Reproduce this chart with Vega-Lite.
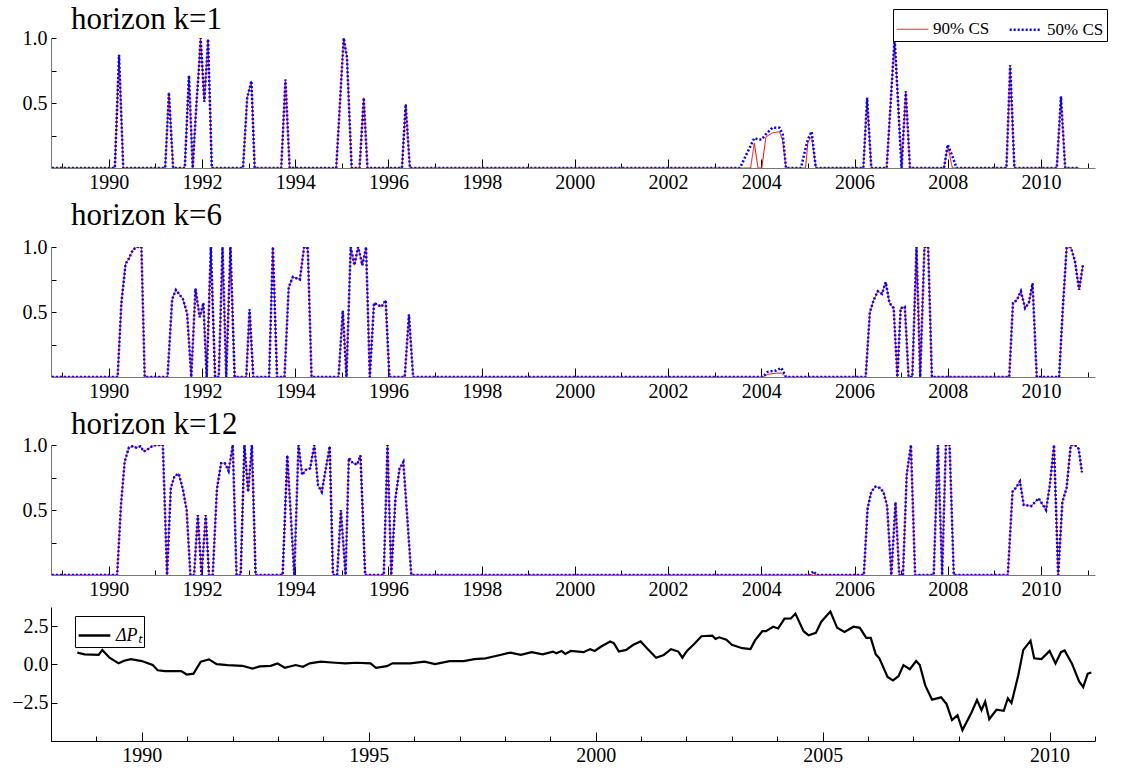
{
"$schema":"https://vega.github.io/schema/vega-lite/v6.json",
"background":"white",
"padding":{"top":4,"left":11,"right":8,"bottom":2},
"spacing":8,
"config":{"font":"Liberation Serif","view":{"stroke":null},
 "axis":{"grid":false,"labelFont":"Liberation Serif","labelFontSize":20,"labelColor":"black","tickColor":"black","title":null,"labelFlush":false},
 "title":{"font":"Liberation Serif","fontSize":31,"fontWeight":"normal","anchor":"start","frame":"group","color":"black","dx":20},
 "legend":{"labelFont":"Liberation Serif","labelColor":"black"}},
"datasets":{
"k1":[
{"x":1988.78,"r":0,"b":0},{"x":1990.13,"r":0,"b":0},{"x":1990.22,"r":0.87,"b":0.87},{"x":1990.31,"r":0,"b":0},
{"x":1991.21,"r":0,"b":0},{"x":1991.29,"r":0.58,"b":0.58},{"x":1991.38,"r":0,"b":0},
{"x":1991.63,"r":0,"b":0},{"x":1991.72,"r":0.71,"b":0.71},{"x":1991.8,"r":0,"b":0},{"x":1991.88,"r":0.49,"b":0.49},{"x":1991.93,"r":0.75,"b":0.75},{"x":1991.97,"r":1,"b":1},{"x":1992.05,"r":0.51,"b":0.51},{"x":1992.13,"r":0.99,"b":0.99},{"x":1992.21,"r":0,"b":0},
{"x":1992.88,"r":0,"b":0},{"x":1992.97,"r":0.54,"b":0.54},{"x":1993.06,"r":0.67,"b":0.67},{"x":1993.13,"r":0,"b":0},
{"x":1993.7,"r":0,"b":0},{"x":1993.79,"r":0.68,"b":0.68},{"x":1993.88,"r":0,"b":0},
{"x":1994.88,"r":0,"b":0},{"x":1995.04,"r":1,"b":1},{"x":1995.11,"r":0.85,"b":0.85},{"x":1995.21,"r":0,"b":0},
{"x":1995.38,"r":0,"b":0},{"x":1995.47,"r":0.54,"b":0.54},{"x":1995.55,"r":0,"b":0},
{"x":1996.29,"r":0,"b":0},{"x":1996.37,"r":0.49,"b":0.49},{"x":1996.46,"r":0,"b":0},
{"x":2003.54,"r":0,"b":0},{"x":2003.77,"r":0,"b":0.17},{"x":2003.85,"r":0.19,"b":0.23},{"x":2003.93,"r":0,"b":0.22},{"x":2004.01,"r":0,"b":0.22},{"x":2004.1,"r":0.24,"b":0.26},{"x":2004.24,"r":0.27,"b":0.31},{"x":2004.39,"r":0.28,"b":0.31},{"x":2004.46,"r":0.21,"b":0.26},{"x":2004.53,"r":0,"b":0},
{"x":2004.85,"r":0,"b":0},{"x":2004.95,"r":0,"b":0.15},{"x":2005.0,"r":0.2,"b":0.22},{"x":2005.08,"r":0.24,"b":0.28},{"x":2005.17,"r":0,"b":0},
{"x":2006.19,"r":0,"b":0},{"x":2006.27,"r":0.54,"b":0.54},{"x":2006.36,"r":0,"b":0},
{"x":2006.69,"r":0,"b":0},{"x":2006.86,"r":1,"b":1},{"x":2007.01,"r":0,"b":0},{"x":2007.1,"r":0.59,"b":0.59},{"x":2007.19,"r":0,"b":0},
{"x":2007.92,"r":0,"b":0},{"x":2008.0,"r":0.17,"b":0.18},{"x":2008.1,"r":0,"b":0.09},{"x":2008.19,"r":0,"b":0},
{"x":2009.26,"r":0,"b":0},{"x":2009.34,"r":0.79,"b":0.79},{"x":2009.43,"r":0,"b":0},
{"x":2010.34,"r":0,"b":0},{"x":2010.43,"r":0.55,"b":0.55},{"x":2010.52,"r":0,"b":0},{"x":2010.82,"r":0,"b":0}
],
"k6":[
{"x":1988.78,"r":0,"b":0},{"x":1990.19,"r":0,"b":0},{"x":1990.27,"r":0.57,"b":0.57},{"x":1990.36,"r":0.87,"b":0.87},{"x":1990.43,"r":0.91,"b":0.91},{"x":1990.52,"r":0.98,"b":0.98},{"x":1990.61,"r":1,"b":1},{"x":1990.7,"r":1,"b":1},{"x":1990.77,"r":0,"b":0},
{"x":1991.26,"r":0,"b":0},{"x":1991.36,"r":0.6,"b":0.6},{"x":1991.44,"r":0.67,"b":0.67},{"x":1991.59,"r":0.6,"b":0.6},{"x":1991.68,"r":0.49,"b":0.49},{"x":1991.77,"r":0,"b":0},{"x":1991.86,"r":0.68,"b":0.68},{"x":1991.95,"r":0.46,"b":0.46},{"x":1992.03,"r":0.57,"b":0.57},{"x":1992.1,"r":0,"b":0},{"x":1992.19,"r":1,"b":1},{"x":1992.28,"r":0,"b":0},{"x":1992.36,"r":0,"b":0},{"x":1992.44,"r":1,"b":1},{"x":1992.52,"r":0,"b":0},{"x":1992.61,"r":1,"b":1},{"x":1992.7,"r":0,"b":0},
{"x":1992.95,"r":0,"b":0},{"x":1993.02,"r":0.52,"b":0.52},{"x":1993.1,"r":0,"b":0},
{"x":1993.44,"r":0,"b":0},{"x":1993.52,"r":1,"b":1},{"x":1993.61,"r":0,"b":0},
{"x":1993.77,"r":0,"b":0},{"x":1993.86,"r":0.69,"b":0.69},{"x":1993.95,"r":0.77,"b":0.77},{"x":1994.1,"r":0.75,"b":0.75},{"x":1994.19,"r":1,"b":1},{"x":1994.27,"r":0.99,"b":0.99},{"x":1994.35,"r":0,"b":0},
{"x":1994.93,"r":0,"b":0},{"x":1995.02,"r":0.51,"b":0.51},{"x":1995.1,"r":0,"b":0},{"x":1995.19,"r":1,"b":1},{"x":1995.27,"r":0.86,"b":0.86},{"x":1995.35,"r":1,"b":1},{"x":1995.44,"r":0.86,"b":0.86},{"x":1995.52,"r":1,"b":1},{"x":1995.6,"r":0,"b":0},{"x":1995.69,"r":0.57,"b":0.57},{"x":1995.85,"r":0.54,"b":0.54},{"x":1995.94,"r":0.59,"b":0.59},{"x":1996.02,"r":0,"b":0},
{"x":1996.35,"r":0,"b":0},{"x":1996.44,"r":0.48,"b":0.48},{"x":1996.53,"r":0,"b":0},
{"x":2004.03,"r":0,"b":0},{"x":2004.14,"r":0.02,"b":0.04},{"x":2004.32,"r":0.03,"b":0.05},{"x":2004.43,"r":0.03,"b":0.07},{"x":2004.53,"r":0,"b":0},
{"x":2006.24,"r":0,"b":0},{"x":2006.33,"r":0.5,"b":0.5},{"x":2006.41,"r":0.59,"b":0.59},{"x":2006.5,"r":0.66,"b":0.66},{"x":2006.59,"r":0.64,"b":0.64},{"x":2006.67,"r":0.73,"b":0.73},{"x":2006.75,"r":0.57,"b":0.57},{"x":2006.84,"r":0.53,"b":0.53},{"x":2006.92,"r":0,"b":0},{"x":2006.99,"r":0.53,"b":0.53},{"x":2007.08,"r":0.54,"b":0.54},{"x":2007.16,"r":0,"b":0},{"x":2007.24,"r":0,"b":0},{"x":2007.33,"r":1,"b":1},{"x":2007.41,"r":0,"b":0},{"x":2007.5,"r":1,"b":1},{"x":2007.58,"r":1,"b":1},{"x":2007.66,"r":0,"b":0},
{"x":2009.32,"r":0,"b":0},{"x":2009.4,"r":0.57,"b":0.57},{"x":2009.48,"r":0.59,"b":0.59},{"x":2009.57,"r":0.66,"b":0.66},{"x":2009.66,"r":0.53,"b":0.53},{"x":2009.74,"r":0.57,"b":0.57},{"x":2009.82,"r":0.72,"b":0.72},{"x":2009.91,"r":0,"b":0},
{"x":2010.39,"r":0,"b":0},{"x":2010.47,"r":0.53,"b":0.53},{"x":2010.55,"r":0.99,"b":0.99},{"x":2010.64,"r":1,"b":1},{"x":2010.73,"r":0.89,"b":0.89},{"x":2010.82,"r":0.67,"b":0.67},{"x":2010.9,"r":0.86,"b":0.86}
],
"k12":[
{"x":1988.78,"r":0,"b":0},{"x":1990.18,"r":0,"b":0},{"x":1990.26,"r":0.53,"b":0.53},{"x":1990.34,"r":0.87,"b":0.87},{"x":1990.43,"r":0.98,"b":0.98},{"x":1990.51,"r":0.99,"b":0.99},{"x":1990.59,"r":0.98,"b":0.98},{"x":1990.68,"r":0.99,"b":0.99},{"x":1990.75,"r":0.95,"b":0.95},{"x":1990.85,"r":0.97,"b":0.97},{"x":1990.93,"r":0.99,"b":0.99},{"x":1991.02,"r":1,"b":1},{"x":1991.16,"r":1,"b":1},{"x":1991.25,"r":0,"b":0},{"x":1991.33,"r":0.67,"b":0.67},{"x":1991.41,"r":0.76,"b":0.76},{"x":1991.5,"r":0.78,"b":0.78},{"x":1991.59,"r":0.66,"b":0.66},{"x":1991.67,"r":0.5,"b":0.5},{"x":1991.75,"r":0,"b":0},{"x":1991.83,"r":0,"b":0},{"x":1991.91,"r":0.46,"b":0.46},{"x":1991.99,"r":0,"b":0},{"x":1992.08,"r":0.46,"b":0.46},{"x":1992.15,"r":0,"b":0},{"x":1992.23,"r":0,"b":0},{"x":1992.32,"r":0.66,"b":0.66},{"x":1992.41,"r":0.86,"b":0.86},{"x":1992.49,"r":0.86,"b":0.86},{"x":1992.57,"r":0.8,"b":0.8},{"x":1992.66,"r":1,"b":1},{"x":1992.74,"r":0,"b":0},{"x":1992.83,"r":0,"b":0},{"x":1992.91,"r":1,"b":1},{"x":1992.99,"r":0.64,"b":0.64},{"x":1993.07,"r":1,"b":1},{"x":1993.15,"r":0,"b":0},
{"x":1993.73,"r":0,"b":0},{"x":1993.83,"r":0.92,"b":0.92},{"x":1993.98,"r":0,"b":0},{"x":1994.07,"r":1,"b":1},{"x":1994.15,"r":0.77,"b":0.77},{"x":1994.23,"r":0.81,"b":0.81},{"x":1994.32,"r":0.82,"b":0.82},{"x":1994.41,"r":1,"b":1},{"x":1994.49,"r":0.69,"b":0.69},{"x":1994.57,"r":0.64,"b":0.64},{"x":1994.74,"r":0.99,"b":0.99},{"x":1994.81,"r":0,"b":0},{"x":1994.9,"r":0,"b":0},{"x":1994.98,"r":0.5,"b":0.5},{"x":1995.08,"r":0,"b":0},{"x":1995.15,"r":0.9,"b":0.9},{"x":1995.24,"r":0.86,"b":0.86},{"x":1995.33,"r":0.85,"b":0.85},{"x":1995.4,"r":0.92,"b":0.92},{"x":1995.5,"r":0,"b":0},
{"x":1995.9,"r":0,"b":0},{"x":1995.98,"r":1,"b":1},{"x":1996.06,"r":0,"b":0},{"x":1996.15,"r":0.59,"b":0.59},{"x":1996.24,"r":0.82,"b":0.82},{"x":1996.32,"r":0.87,"b":0.87},{"x":1996.49,"r":0,"b":0},
{"x":2005.04,"r":0,"b":0},{"x":2005.12,"r":0.01,"b":0.03},{"x":2005.19,"r":0,"b":0},
{"x":2006.2,"r":0,"b":0},{"x":2006.28,"r":0.51,"b":0.51},{"x":2006.36,"r":0.64,"b":0.64},{"x":2006.45,"r":0.68,"b":0.68},{"x":2006.54,"r":0.67,"b":0.67},{"x":2006.62,"r":0.64,"b":0.64},{"x":2006.7,"r":0.53,"b":0.53},{"x":2006.79,"r":0,"b":0},{"x":2006.88,"r":0.56,"b":0.56},{"x":2006.96,"r":0,"b":0},{"x":2007.04,"r":0,"b":0},{"x":2007.12,"r":0.77,"b":0.77},{"x":2007.21,"r":1,"b":1},{"x":2007.3,"r":0,"b":0},
{"x":2007.7,"r":0,"b":0},{"x":2007.79,"r":1,"b":1},{"x":2007.88,"r":0,"b":0},{"x":2007.96,"r":1,"b":1},{"x":2008.04,"r":1,"b":1},{"x":2008.13,"r":0,"b":0},
{"x":2009.29,"r":0,"b":0},{"x":2009.39,"r":0.64,"b":0.64},{"x":2009.46,"r":0.67,"b":0.67},{"x":2009.55,"r":0.72,"b":0.72},{"x":2009.63,"r":0.54,"b":0.54},{"x":2009.79,"r":0.53,"b":0.53},{"x":2009.95,"r":0.59,"b":0.59},{"x":2010.11,"r":0.5,"b":0.5},{"x":2010.19,"r":0.69,"b":0.69},{"x":2010.28,"r":1,"b":1},{"x":2010.37,"r":0,"b":0},{"x":2010.46,"r":0.56,"b":0.56},{"x":2010.55,"r":0.67,"b":0.67},{"x":2010.64,"r":1,"b":1},{"x":2010.73,"r":1,"b":1},{"x":2010.81,"r":0.97,"b":0.97},{"x":2010.88,"r":0.79,"b":0.79}
],
"dp":[
{"x":1988.58,"v":0.77},{"x":1988.74,"v":0.66},{"x":1989.05,"v":0.62},{"x":1989.13,"v":0.95},{"x":1989.29,"v":0.44},{"x":1989.49,"v":0.07},{"x":1989.61,"v":0.24},{"x":1989.76,"v":0.35},{"x":1990.0,"v":0.22},{"x":1990.24,"v":-0.04},{"x":1990.35,"v":-0.38},{"x":1990.51,"v":-0.44},{"x":1990.87,"v":-0.44},{"x":1990.99,"v":-0.66},{"x":1991.14,"v":-0.6},{"x":1991.3,"v":0.18},{"x":1991.48,"v":0.33},{"x":1991.65,"v":0.02},{"x":1991.89,"v":-0.04},{"x":1992.21,"v":-0.09},{"x":1992.44,"v":-0.27},{"x":1992.6,"v":-0.13},{"x":1992.84,"v":-0.09},{"x":1992.99,"v":0.07},{"x":1993.15,"v":-0.22},{"x":1993.39,"v":-0.04},{"x":1993.55,"v":-0.15},{"x":1993.7,"v":0.07},{"x":1993.94,"v":0.18},{"x":1994.26,"v":0.11},{"x":1994.49,"v":0.07},{"x":1994.73,"v":0.11},{"x":1995.04,"v":0.07},{"x":1995.16,"v":-0.22},{"x":1995.4,"v":-0.11},{"x":1995.52,"v":0.07},{"x":1995.91,"v":0.07},{"x":1996.23,"v":0.18},{"x":1996.46,"v":0.02},{"x":1996.78,"v":0.22},{"x":1997.09,"v":0.22},{"x":1997.33,"v":0.35},{"x":1997.57,"v":0.4},{"x":1997.8,"v":0.55},{"x":1998.12,"v":0.77},{"x":1998.35,"v":0.62},{"x":1998.59,"v":0.8},{"x":1998.83,"v":0.66},{"x":1999.06,"v":0.84},
{"x":1999.13,"v":0.73},{"x":1999.25,"v":0.88},{"x":1999.33,"v":0.69},{"x":1999.45,"v":0.88},{"x":1999.73,"v":0.8},{"x":1999.88,"v":1.0},{"x":1999.98,"v":0.88},{"x":2000.12,"v":1.17},{"x":2000.32,"v":1.5},{"x":2000.4,"v":1.39},{"x":2000.51,"v":0.84},{"x":2000.67,"v":0.95},{"x":2000.83,"v":1.28},{"x":2000.99,"v":1.5},{"x":2001.14,"v":1.02},{"x":2001.33,"v":0.44},{"x":2001.5,"v":0.62},{"x":2001.66,"v":1.0},{"x":2001.82,"v":0.84},{"x":2001.91,"v":0.44},{"x":2002.01,"v":0.88},{"x":2002.17,"v":1.33},{"x":2002.33,"v":1.84},{"x":2002.57,"v":1.88},{"x":2002.64,"v":1.66},{"x":2002.72,"v":1.77},{"x":2002.88,"v":1.62},{"x":2003.0,"v":1.28},{"x":2003.23,"v":1.06},{"x":2003.41,"v":1.0},{"x":2003.51,"v":1.57},{"x":2003.67,"v":2.17},{"x":2003.75,"v":2.17},{"x":2003.91,"v":2.46},{"x":2004.02,"v":2.35},{"x":2004.16,"v":2.99},{"x":2004.3,"v":3.0},{"x":2004.4,"v":3.32},{"x":2004.58,"v":2.17},{"x":2004.69,"v":1.9},{"x":2004.85,"v":2.06},{"x":2004.97,"v":2.79},{"x":2005.17,"v":3.45},{"x":2005.32,"v":2.39},{"x":2005.48,"v":2.12},{"x":2005.68,"v":2.46},{"x":2005.82,"v":2.39},{"x":2005.96,"v":1.73},{"x":2006.06,"v":1.73},{"x":2006.17,"v":0.66},{"x":2006.25,"v":0.4},{"x":2006.43,"v":-0.82},{"x":2006.55,"v":-1.04},{"x":2006.67,"v":-0.77},{"x":2006.78,"v":-0.04},{"x":2006.92,"v":-0.31},{"x":2007.06,"v":0.22},{"x":2007.14,"v":-0.04},{"x":2007.26,"v":-1.37},{"x":2007.41,"v":-2.3},{"x":2007.61,"v":-2.15},{"x":2007.73,"v":-2.59},{"x":2007.85,"v":-3.63},{"x":2007.97,"v":-3.32},{"x":2008.08,"v":-4.29},{"x":2008.28,"v":-3.14},{"x":2008.4,"v":-2.32},{"x":2008.5,"v":-2.99},{"x":2008.58,"v":-2.43},{"x":2008.67,"v":-3.58},{"x":2008.83,"v":-2.96},{"x":2008.99,"v":-3.03},{"x":2009.08,"v":-2.21},{"x":2009.16,"v":-2.52},{"x":2009.31,"v":-0.71},{"x":2009.42,"v":0.95},{"x":2009.58,"v":1.55},{"x":2009.66,"v":0.4},{"x":2009.82,"v":0.35},{"x":2010.0,"v":0.88},{"x":2010.13,"v":0.07},{"x":2010.25,"v":0.8},{"x":2010.33,"v":0.91},{"x":2010.49,"v":0.07},{"x":2010.65,"v":-1.11},{"x":2010.74,"v":-1.48},{"x":2010.84,"v":-0.6},{"x":2010.92,"v":-0.53}
]},
"vconcat":[
{"width":1044,"height":130,"title":{"text":"horizon k=1","offset":-8},
 "data":{"name":"k1"},"transform":[{"fold":["r","b"],"as":["s","v"]}],
 "mark":{"type":"line","clip":true},
 "encoding":{
  "x":{"field":"x","type":"quantitative","scale":{"domain":[1988.76,2011.16],"nice":false,"zero":false},
   "axis":{"values":[1989,1990,1991,1992,1993,1994,1995,1996,1997,1998,1999,2000,2001,2002,2003,2004,2005,2006,2007,2008,2009,2010,2011],"labelExpr":"datum.value%2==0 ? datum.value : ''","tickSize":{"condition":{"test":"datum.value%2==0","value":-9},"value":-5},"labelPadding":13,"domainColor":"#777777","labelFont":"Liberation Serif","labelFontSize":20}},
  "y":{"field":"v","type":"quantitative","scale":{"domain":[0,1],"nice":false},
   "axis":{"values":[0.25,0.5,0.75,1],"format":".1f","labelExpr":"datum.value==0.5||datum.value==1 ? datum.label : ''","domainColor":"#777777","tickSize":-5,"labelPadding":9,"labelFont":"Liberation Serif","labelFontSize":20}},
  "stroke":{"field":"s","type":"nominal","scale":{"domain":["r","b"],"range":["#ff0000","#0000ff"]},
   "legend":{"title":null,"orient":"none","legendX":842,"legendY":-29,"direction":"horizontal","strokeColor":"black","padding":3,"labelFontSize":17,"symbolType":"stroke","symbolSize":1000,"labelExpr":"datum.label=='r' ? '90% CS' : '50% CS'","columnPadding":14,"fillColor":"white",
    "encode":{"symbols":{"update":{"strokeDash":{"signal":"datum.value=='b' ? [2,2] : [1,0]"},"strokeWidth":{"signal":"datum.value=='b' ? 2.5 : 1.2"}}}}}},
  "strokeDash":{"field":"s","type":"nominal","scale":{"domain":["r","b"],"range":[[1,0],[2,2]]},"legend":null},
  "strokeWidth":{"field":"s","type":"nominal","scale":{"domain":["r","b"],"range":[1,2.5]},"legend":null}
 }},
{"width":1044,"height":130,"title":{"text":"horizon k=6","offset":5},
 "data":{"name":"k6"},"transform":[{"fold":["r","b"],"as":["s","v"]}],
 "mark":{"type":"line","clip":true},
 "encoding":{
  "x":{"field":"x","type":"quantitative","scale":{"domain":[1988.76,2011.16],"nice":false,"zero":false},
   "axis":{"values":[1989,1990,1991,1992,1993,1994,1995,1996,1997,1998,1999,2000,2001,2002,2003,2004,2005,2006,2007,2008,2009,2010,2011],"labelExpr":"datum.value%2==0 ? datum.value : ''","tickSize":{"condition":{"test":"datum.value%2==0","value":-9},"value":-5},"labelPadding":13,"domainColor":"#777777","labelFont":"Liberation Serif","labelFontSize":20}},
  "y":{"field":"v","type":"quantitative","scale":{"domain":[0,1],"nice":false},
   "axis":{"values":[0.25,0.5,0.75,1],"format":".1f","labelExpr":"datum.value==0.5||datum.value==1 ? datum.label : ''","domainColor":"#777777","tickSize":-5,"labelPadding":9,"labelFont":"Liberation Serif","labelFontSize":20}},
  "stroke":{"field":"s","type":"nominal","scale":{"domain":["r","b"],"range":["#ff0000","#0000ff"]},"legend":null},
  "strokeDash":{"field":"s","type":"nominal","scale":{"domain":["r","b"],"range":[[1,0],[2,2]]},"legend":null},
  "strokeWidth":{"field":"s","type":"nominal","scale":{"domain":["r","b"],"range":[1,2.5]},"legend":null}
 }},
{"width":1044,"height":130,"title":{"text":"horizon k=12","offset":-6},
 "data":{"name":"k12"},"transform":[{"fold":["r","b"],"as":["s","v"]}],
 "mark":{"type":"line","clip":true},
 "encoding":{
  "x":{"field":"x","type":"quantitative","scale":{"domain":[1988.76,2011.16],"nice":false,"zero":false},
   "axis":{"values":[1989,1990,1991,1992,1993,1994,1995,1996,1997,1998,1999,2000,2001,2002,2003,2004,2005,2006,2007,2008,2009,2010,2011],"labelExpr":"datum.value%2==0 ? datum.value : ''","tickSize":{"condition":{"test":"datum.value%2==0","value":-9},"value":-5},"labelPadding":13,"domainColor":"#777777","labelFont":"Liberation Serif","labelFontSize":20}},
  "y":{"field":"v","type":"quantitative","scale":{"domain":[0,1],"nice":false},
   "axis":{"values":[0.25,0.5,0.75,1],"format":".1f","labelExpr":"datum.value==0.5||datum.value==1 ? datum.label : ''","domainColor":"#777777","tickSize":-5,"labelPadding":9,"labelFont":"Liberation Serif","labelFontSize":20}},
  "stroke":{"field":"s","type":"nominal","scale":{"domain":["r","b"],"range":["#ff0000","#0000ff"]},"legend":null},
  "strokeDash":{"field":"s","type":"nominal","scale":{"domain":["r","b"],"range":[[1,0],[2,2]]},"legend":null},
  "strokeWidth":{"field":"s","type":"nominal","scale":{"domain":["r","b"],"range":[1,2.5]},"legend":null}
 }},
{"width":1044,"height":134,
 "layer":[
  {"mark":{"type":"rule","color":"#888888","strokeWidth":1},"encoding":{"y":{"datum":0,"type":"quantitative"}}},
  {"data":{"name":"dp"},"transform":[{"calculate":"'d'","as":"s"}],"mark":{"type":"line","strokeWidth":2.2},
   "encoding":{
    "x":{"field":"x","type":"quantitative","scale":{"domain":[1988,2011],"nice":false,"zero":false},
     "axis":{"values":[1988,1989,1990,1991,1992,1993,1994,1995,1996,1997,1998,1999,2000,2001,2002,2003,2004,2005,2006,2007,2008,2009,2010,2011],"labelExpr":"datum.value%5==0 ? datum.value : ''","tickSize":{"condition":{"test":"datum.value%5==0","value":-9},"value":-5},"labelPadding":13,"domainColor":"black","labelFont":"Liberation Serif","labelFontSize":20}},
    "y":{"field":"v","type":"quantitative","scale":{"domain":[-5,3.75],"nice":false,"zero":false},
     "axis":{"values":[-5,-3.75,-2.5,-1.25,0,1.25,2.5,3.75],"format":".1f","labelExpr":"datum.value%2.5==0 && datum.value>-5 ? datum.label : ''","domainColor":"black","tickSize":-6,"labelPadding":9,"labelFont":"Liberation Serif","labelFontSize":20}},
    "color":{"field":"s","type":"nominal","scale":{"domain":["d"],"range":["black"]},
     "legend":{"title":null,"orient":"none","legendX":24,"legendY":578,"strokeColor":"black","padding":2,"labelFontSize":18,"labelFontStyle":"italic","symbolType":"stroke","symbolSize":1000,"symbolStrokeWidth":2.5,"labelExpr":"'ΔPₜ'","fillColor":"white"}}
   }}
 ]}
]
}
